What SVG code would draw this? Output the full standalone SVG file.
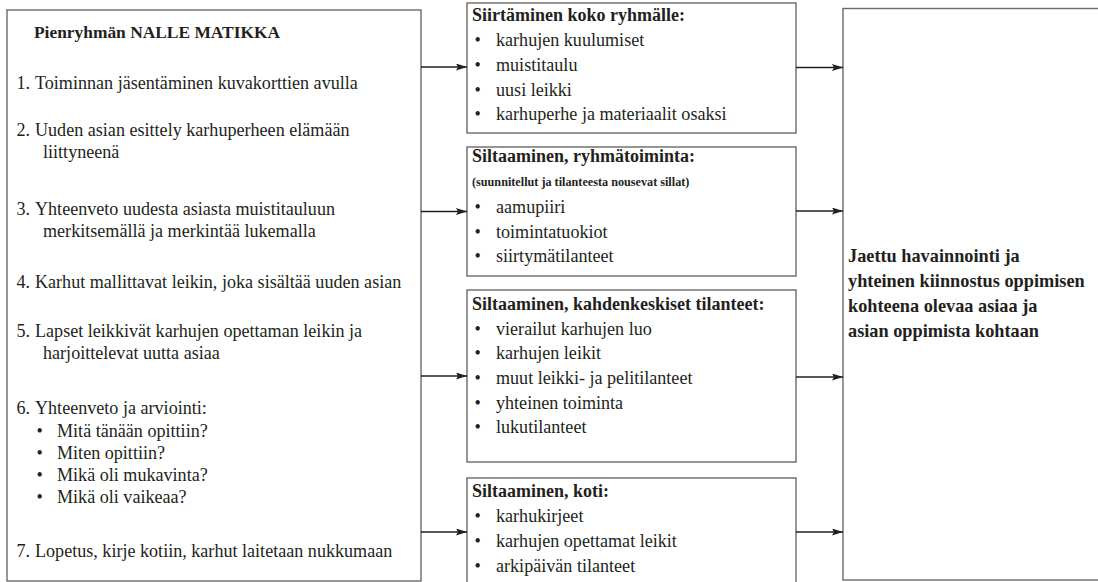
<svg xmlns="http://www.w3.org/2000/svg" width="1098" height="582" viewBox="0 0 1098 582">
<style>
.box{fill:#fff;stroke:#6a6a6a;stroke-width:1.4}
.t{font-family:"Liberation Serif","Times New Roman",serif;font-size:18.1px;fill:#231f20}
.b{font-weight:bold;font-size:18px}
.h{font-weight:bold;font-size:17.4px}
.r{font-weight:bold;font-size:18.3px}
.s{font-size:12.2px;font-weight:bold}
.c{stroke:#231f20;stroke-width:1.5;fill:none}
</style>
<defs>
<marker id="ah" viewBox="0 0 11 7" refX="11" refY="3.5" markerWidth="11" markerHeight="7" markerUnits="userSpaceOnUse" orient="auto">
<path d="M0,0 L11,3.5 L0,7 L2,3.5 z" fill="#231f20"/>
</marker>
</defs>
<rect width="1098" height="582" fill="#fff"/>

<g id="left">
<rect class="box" x="7" y="10" width="414" height="571"/>
<text class="t h" x="34" y="38">Pienryhmän NALLE MATIKKA</text>
<text class="t" x="16.5" y="89">1.</text><text class="t" x="35" y="89">Toiminnan jäsentäminen kuvakorttien avulla</text>
<text class="t" x="16.5" y="136">2.</text><text class="t" x="35" y="136">Uuden asian esittely karhuperheen elämään</text>
<text class="t" x="43" y="158">liittyneenä</text>
<text class="t" x="16.5" y="215">3.</text><text class="t" x="35" y="215">Yhteenveto uudesta asiasta muistitauluun</text>
<text class="t" x="43" y="237">merkitsemällä ja merkintää lukemalla</text>
<text class="t" x="16.5" y="288">4.</text><text class="t" x="35" y="288">Karhut mallittavat leikin, joka sisältää uuden asian</text>
<text class="t" x="16.5" y="337">5.</text><text class="t" x="35" y="337">Lapset leikkivät karhujen opettaman leikin ja</text>
<text class="t" x="43" y="359">harjoittelevat uutta asiaa</text>
<text class="t" x="16.5" y="414">6.</text><text class="t" x="35" y="414">Yhteenveto ja arviointi:</text>
<text class="t" x="36.5" y="437">•</text><text class="t" x="57" y="437">Mitä tänään opittiin?</text>
<text class="t" x="36.5" y="459">•</text><text class="t" x="57" y="459">Miten opittiin?</text>
<text class="t" x="36.5" y="481">•</text><text class="t" x="57" y="481">Mikä oli mukavinta?</text>
<text class="t" x="36.5" y="503">•</text><text class="t" x="57" y="503">Mikä oli vaikeaa?</text>
<text class="t" x="16.5" y="557">7.</text><text class="t" x="35" y="557">Lopetus, kirje kotiin, karhut laitetaan nukkumaan</text>
</g>

<g id="box1">
<rect class="box" x="467" y="3" width="329" height="130"/>
<text class="t b" x="472" y="21">Siirtäminen koko ryhmälle:</text>
<text class="t" x="474.5" y="46">•</text><text class="t" x="496" y="46">karhujen kuulumiset</text>
<text class="t" x="474.5" y="71">•</text><text class="t" x="496" y="71">muistitaulu</text>
<text class="t" x="474.5" y="95.5">•</text><text class="t" x="496" y="95.5">uusi leikki</text>
<text class="t" x="474.5" y="120">•</text><text class="t" x="496" y="120">karhuperhe ja materiaalit osaksi</text>
</g>

<g id="box2">
<rect class="box" x="467" y="147" width="329" height="129"/>
<text class="t b" x="472" y="162">Siltaaminen, ryhmätoiminta:</text>
<text class="t s" x="472" y="186">(suunnitellut ja tilanteesta nousevat sillat)</text>
<text class="t" x="474.5" y="213">•</text><text class="t" x="496" y="213">aamupiiri</text>
<text class="t" x="474.5" y="237.5">•</text><text class="t" x="496" y="237.5">toimintatuokiot</text>
<text class="t" x="474.5" y="262">•</text><text class="t" x="496" y="262">siirtymätilanteet</text>
</g>

<g id="box3">
<rect class="box" x="467" y="290" width="329" height="172"/>
<text class="t b" x="472" y="310">Siltaaminen, kahdenkeskiset tilanteet:</text>
<text class="t" x="474.5" y="335">•</text><text class="t" x="496" y="335">vierailut karhujen luo</text>
<text class="t" x="474.5" y="359">•</text><text class="t" x="496" y="359">karhujen leikit</text>
<text class="t" x="474.5" y="384">•</text><text class="t" x="496" y="384">muut leikki- ja pelitilanteet</text>
<text class="t" x="474.5" y="408.5">•</text><text class="t" x="496" y="408.5">yhteinen toiminta</text>
<text class="t" x="474.5" y="433">•</text><text class="t" x="496" y="433">lukutilanteet</text>
</g>

<g id="box4">
<rect class="box" x="467" y="478" width="329" height="106"/>
<text class="t b" x="472" y="497">Siltaaminen, koti:</text>
<text class="t" x="474.5" y="522">•</text><text class="t" x="496" y="522">karhukirjeet</text>
<text class="t" x="474.5" y="547">•</text><text class="t" x="496" y="547">karhujen opettamat leikit</text>
<text class="t" x="474.5" y="571.5">•</text><text class="t" x="496" y="571.5">arkipäivän tilanteet</text>
</g>

<g id="right">
<rect class="box" x="843" y="8.5" width="260" height="571.5"/>
<text class="t r" x="848" y="262">Jaettu havainnointi ja</text>
<text class="t r" x="848" y="287">yhteinen kiinnostus oppimisen</text>
<text class="t r" x="848" y="312">kohteena olevaa asiaa ja</text>
<text class="t r" x="848" y="337">asian oppimista kohtaan</text>
</g>

<g id="connectors">
<line class="c" x1="421" y1="67" x2="467" y2="67" marker-end="url(#ah)"/>
<line class="c" x1="421" y1="211.5" x2="467" y2="211.5" marker-end="url(#ah)"/>
<line class="c" x1="421" y1="376" x2="467" y2="376" marker-end="url(#ah)"/>
<line class="c" x1="421" y1="532" x2="467" y2="532" marker-end="url(#ah)"/>
<line class="c" x1="796" y1="67.5" x2="843" y2="67.5" marker-end="url(#ah)"/>
<line class="c" x1="796" y1="211" x2="843" y2="211" marker-end="url(#ah)"/>
<line class="c" x1="796" y1="377" x2="843" y2="377" marker-end="url(#ah)"/>
<line class="c" x1="796" y1="532" x2="843" y2="532" marker-end="url(#ah)"/>
</g>
</svg>
